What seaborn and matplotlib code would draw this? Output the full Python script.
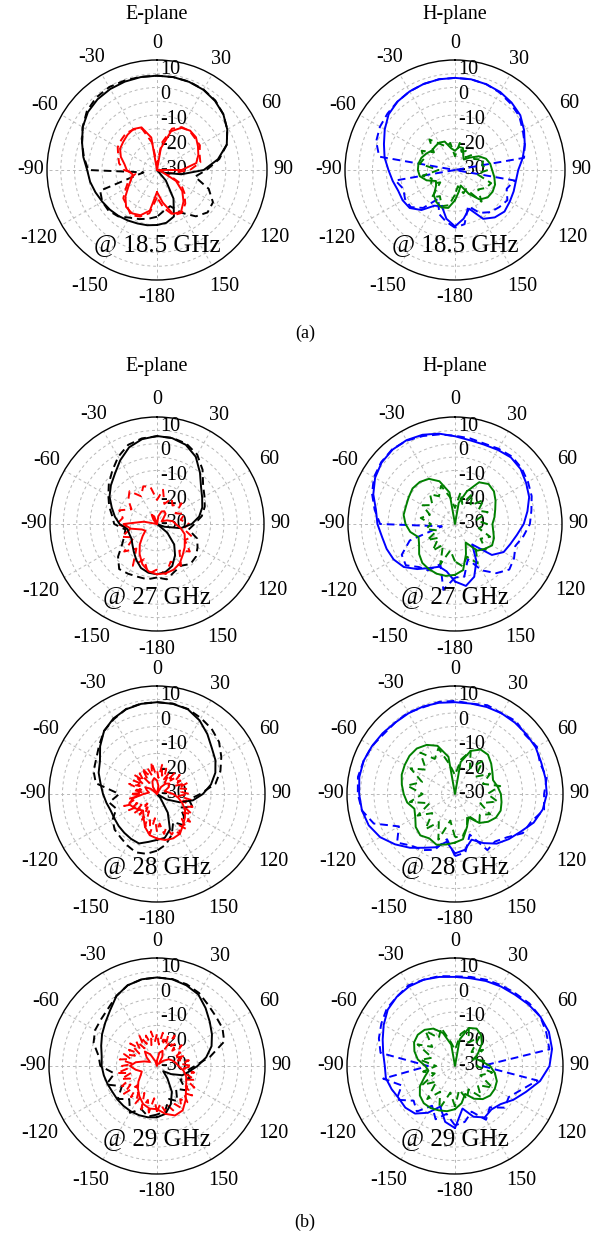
import numpy as np
import pandas as pd
import matplotlib
matplotlib.use("Agg")
import matplotlib.pyplot as plt
import seaborn as sns
from matplotlib.transforms import offset_copy

sns.set_theme(style="white")
plt.rcParams["font.family"] = ["Liberation Serif", "DejaVu Serif"]
plt.rcParams["text.color"] = "black"
plt.rcParams["xtick.color"] = "black"

# ---------------- data (dB vs angle, deg) ----------------
ANG10 = list(range(-180, 181, 10))
ANG5 = list(range(-180, 181, 5))
THETA_TICKS = [0, 30, 60, 90, 120, 150, 180, 210, 240, 270, 300, 330]
THETA_LABELS = ["0", "30", "60", "90", "120", "150", "-180", "-150", "-120", "-90", "-60", "-30"]
R_LABELS = [10, 0, -10, -20, -30]
FREQ_LABELS = ["@ 18.5 GHz", "@ 27 GHz", "@ 28 GHz", "@ 29 GHz"]

# 18.5 GHz E-plane
e185_co_sim = [-10, -9.6, -9.3, -8.8, -8.2, -7.6, -7, -6.2, -5.3, -4.6, -2.8, -1, 1.2, 2.8, 3.6, 4, 4.2, 4.3, 4.3,
               4.3, 4.1, 3.7, 2.8, 1.5, -0.5, -3, -7.5, -13, -21, -27, -30, -30, -25, -18, -12, -10.5, -10]
e185_co_mea = [-13, -12, -11, -10, -8, -7, -7, -8, -25, -5, -3, -1, 1.2, 3.3, 4.4, 4.8, 4.6, 4.4, 4.3,
               4.3, 4.2, 3.8, 3, 1.5, -0.5, -3, -7, -12, -16, -10, -6.5, -6, -8, -12, -16, -15, -13]
e185_x_sim = [-22, -15, -12.5, -11.8, -12.5, -15, -18, -20, -21, -19, -18, -16, -14.5, -14, -13.3, -12.8, -13.5, -18, -30,
              -22, -15, -12.3, -11.3, -11.5, -12.8, -14, -15.5, -21, -30, -28, -22, -18, -15, -12.5, -13, -18, -22]
e185_x_mea = [-20, -14, -12, -11, -13, -14, -17, -19, -22, -18, -16, -15, -13.5, -13, -12.5, -13, -14, -20, -28,
              -20, -14, -12, -11.5, -12, -12, -13.5, -14, -18, -24, -26, -20, -17, -14, -12, -12.5, -16, -20]
# 18.5 GHz H-plane
h185_co_sim = [-9.5, -12, -16, -15, -11, -8.5, -8, -8, -7, -5.8, -4, -2.5, -0.5, 1.5, 2.5, 3, 3.3, 3.5, 3.5,
               3.5, 3.2, 2.8, 2, 1, -1, -3, -5, -7, -7.5, -7.3, -7, -6.5, -7.5, -9.5, -15, -12, -9.5]
h185_co_mea = [-9, -11, -13, -18, -12, -9, -9, -10, -8, -30, -2, 0.5, 1.5, 2, 2.5, 3, 3.3, 3.5, 3.5,
               3.5, 3.2, 2.5, 1.5, 0.5, -1.5, -3, -4.5, -30, -8, -10, -8, -9, -10, -12, -16, -10, -9]
h185_x_sim = [-19, -16, -15.5, -16.5, -18, -21, -22, -19, -17, -16.5, -16.5, -17, -18, -19, -18.8, -18.5, -19, -22, -23,
              -21.5, -21.5, -24, -25, -23, -20, -18, -17, -16.5, -15.5, -14.5, -14.2, -14.5, -16, -20, -24, -22, -19]
h185_x_mea = [-21, -17, -16, -19, -17, -23, -20, -21, -18, -24, -17, -18, -16, -20, -15.5, -19, -21, -20, -25,
              -20, -23, -22, -24, -21, -22, -19, -20, -18, -22, -16, -17, -19, -15, -22, -21, -24, -21]

# 27 GHz E-plane
e27_co_sim = [-11.2, -11.5, -12.5, -14.5, -16.5, -18, -19, -19, -18.8, -16, -14, -12, -9.5, -7.5, -5.5, -2.5, 0.5, 2.2, 2.9,
              2.6, 1.5, -1, -5, -8.5, -10.5, -12, -14, -17, -21, -27, -30, -25, -20, -16.5, -13.3, -11.8, -11.2]
e27_co_mea = [-10, -9, -9, -8.5, -8, -11, -15, -17, -18, -14, -13, -11, -9, -6.5, -4, -1, 1.5, 2.5, 2.8,
              2.7, 2, 0, -3.5, -7.5, -9.5, -11, -13, -16, -18, -14, -12.5, -11, -10.5, -12, -11, -9, -10]
e27_x_sim = [-11.2, -12, -14, -17, -20, -23, -25, -24, -20, -17.5, -25, -30, -30, -30, -28, -26, -27, -30, -30,
             -27, -25, -24.5, -25, -27, -28, -26, -24, -23, -21, -19, -18, -16.5, -15, -13, -11.8, -11.3, -11.2]
e27_x_mea = [-13, -11, -16, -12, -18, -14, -20, -16, -20, -15, -17, -15, -19, -16, -14, -18, -15, -16, -21,
             -17, -22, -19, -21, -18, -22, -19, -21, -18, -20, -16, -18, -14, -17, -12, -15, -11, -13]
# 27 GHz H-plane
h27_co_sim = [-8.5, -12, -13, -11, -8, -5, -3.5, -2.8, -2.3, -1, 0, 2.5, 4.5, 5.8, 6.3, 6.2, 5.5, 4.3, 2.8,
              1.8, 1.6, 2, 2.5, 2, 0.7, -0.5, -2.5, -4.3, -6.5, -8, -9, -12, -20, -14, -9, -6.5, -8.5]
h27_co_mea = [-10, -5, -14, -10, -9, -6, -7, -12, -25, -2, 0.5, 3, 5, 6, 6.5, 6, 5, 4, 3,
              2.5, 2, 2.5, 3, 2.5, 1.5, 0.5, -1, -2, -4, -6, -4.5, -3.5, -6, -10, -16, -10, -10]
h27_x_sim = [-11, -10.3, -10.2, -10.5, -11, -12.5, -14.5, -15.5, -13, -11.5, -10.5, -10.5, -10, -9.3, -9.5, -10.5, -13, -18, -30,
             -22, -17, -12, -10.5, -11, -12.5, -14, -15, -16, -15.5, -14.5, -14, -15.5, -17, -22, -18, -12.5, -11]
h27_x_mea = [-16, -20, -14, -21, -17, -22, -18, -23, -19, -21, -17, -20, -16, -19, -15.5, -18, -14.8, -20, -24,
             -18, -22, -17, -21, -16, -20, -17, -22, -18, -21, -16, -19, -15, -18, -13, -17, -14, -16]

# 28 GHz E-plane
e28_co_sim = [-13, -12, -10.5, -10.8, -11.2, -11.5, -11.8, -11.8, -11, -10, -8.8, -7, -5.6, -2.5, 0.5, 2.3, 3.4, 3.9, 4,
              3.9, 3.4, 1.5, -1, -3.5, -5, -7, -9.7, -13, -16.5, -21, -26, -30, -28, -22, -16, -13.5, -13]
e28_co_mea = [-9, -7.5, -7, -8, -9, -9.5, -11, -14, -12, -16, -7, -5, -4, -2, 0.5, 2, 3.5, 4, 4,
              4, 3.5, 2.5, 1.5, 0, -2.5, -5, -8, -14, -18, -16, -20, -17, -15, -18, -14, -11, -9]
e28_x_sim = [-13.5, -14.5, -17, -20, -22, -21, -20, -19, -21, -25, -27, -26, -25, -27, -30, -27, -25, -24, -25,
             -27, -30, -27, -25, -24, -25, -27, -26, -24, -22, -20, -18, -16.5, -15, -13, -12.5, -12.7, -13.5]
e28_x_mea = [-16, -21, -15, -20, -17, -23, -19, -24, -20, -25, -19, -23, -18, -22, -17, -21, -19, -24, -20,
             -25, -21, -24, -19, -23, -20, -24, -19, -23, -20, -25, -19, -22, -20, -23, -18, -22, -21,
             -24, -19, -23, -20, -24, -21, -25, -20, -23, -19, -22, -20, -23, -18, -22, -19, -21, -18,
             -22, -17, -20, -16, -19, -15, -18, -14, -17, -13, -16, -13, -15, -14, -17, -15, -19, -16]
# 28 GHz H-plane
h28_co_sim = [-8, -12, -9, -7, -4, -1, 2, 4, 5, 5.5, 6, 6, 5.5, 5, 4.5, 4.5, 4.5, 4.3, 4,
              4, 4.3, 4.5, 4.5, 4.5, 4.5, 4, 4, 4, 3, 1, -2, -4, -6, -9, -12, -9, -8]
h28_co_mea = [-7, -13, -8, -6, -5, -2, -6, 2, 5, 6, 6.5, 6, 5.5, 4.5, 4.5, 4.8, 4.2, 4.6, 4.5,
              4, 5, 4.5, 5.2, 4, 5, 3.5, 4.5, 3, 3.5, 0, -1, -5, -7, -6, -14, -8, -7]
h28_x_sim = [-12, -11, -10, -11, -10, -11, -13, -14, -12, -11, -10, -9, -8.5, -8, -8, -9, -11, -16, -30,
             -18, -13, -11, -11, -12.5, -14, -15, -14, -13, -12.5, -12, -12.5, -14, -16, -20, -17, -13, -12]
h28_x_mea = [-14, -20, -12, -18, -13, -19, -14, -20, -13, -18, -12, -17, -11, -16, -10, -15, -12, -19, -23,
             -17, -13, -19, -14, -20, -15, -19, -13, -18, -14, -20, -15, -18, -16, -21, -17, -14, -14]

# 29 GHz E-plane
e29_co_sim = [-11, -10.7, -10.6, -10.6, -10.7, -10.8, -10.9, -10.5, -10, -9.5, -9.2, -8, -6.5, -5, -3, 0, 1.8, 2.6, 2.8,
              2.6, 1.8, 0.6, -2, -4.5, -6.5, -8.5, -11.5, -15, -18, -20, -24, -27, -24, -19, -15, -12, -11]
e29_co_mea = [-12, -11, -13, -10, -14, -11, -15, -10, -14, -9, -8, -5, -3.5, -3, -2, 0, 1.8, 2.6, 2.8,
              2.7, 2.2, 1.2, -0.5, -1.5, -2, -3.5, -10, -16, -19, -17, -20, -16, -19, -15, -17, -13, -12]
e29_x_sim = [-14, -14, -15, -17, -19, -21, -23, -24, -22, -20, -22, -25, -27, -25, -23, -25, -28, -30, -28,
             -25, -24, -26, -29, -27, -25, -24, -23, -22, -20, -18.5, -17.5, -16, -13.5, -11, -10.5, -12, -14]
e29_x_mea = [-13, -18, -12.5, -17, -13, -19, -14, -18, -15, -20, -14, -18, -15, -19, -16, -20, -15, -19, -17,
             -21, -16, -20, -17, -21, -18, -22, -17, -21, -18, -22, -17, -21, -18, -22, -17, -21, -18,
             -22, -17.5, -21, -18, -23, -17, -21, -19, -22, -18, -21, -20, -23, -19, -22, -18, -21, -17,
             -20, -16, -19, -15, -18, -14, -17, -13, -16, -12.5, -15, -12, -14.5, -12.5, -15, -13, -16, -13]
# 29 GHz H-plane
h29_co_sim = [-7, -9, -14, -10, -7, -6, -6, -5, -4, -4, -3, -1.5, 0.5, 2.5, 3.5, 4, 4, 3.5, 3,
              3, 3.5, 4, 4.5, 5.5, 6.5, 7, 6.5, 5, 2, -2, -5, -8, -9, -8, -10, -14, -7]
h29_co_mea = [-8, -12, -9, -13, -8, -10, -5, -9, -3, -20, -2, 0, 1.5, 3, 3.5, 4.5, 4, 3.8, 3.2,
              3.5, 4, 4.5, 5, 6, 6.5, 6, 5.5, -20, 1, -4, -7, -6, -10, -7, -12, -9, -8]
h29_x_sim = [-14, -13, -12.5, -12, -12, -13, -15, -18, -20, -19, -16, -14, -12.5, -12, -12.5, -14, -17, -22, -30,
             -20, -15, -14, -15, -17, -20, -22, -20, -17, -15, -13.5, -13, -13, -14, -16, -19, -16, -14]
h29_x_mea = [-15, -20, -13, -19, -14, -21, -16, -22, -18, -23, -17, -21, -14, -19, -13, -18, -15, -21, -24,
             -18, -15, -20, -16, -22, -18, -23, -19, -22, -16, -20, -14, -19, -15, -20, -17, -21, -15]

# ---------------- layout (pixels) ----------------
W, H = 611, 1243
ROW_CY = [170, 524, 794, 1066]
ROW_R = [110, 107, 108, 108]
COL_CX = [157, 455]
# distance (px) from circle edge to the centre of each angle label
THETA_LABEL_GAP = [17, 18, 22, 16, 26, 24, 18, 24, 27, 16, 20, 20]

E_COLORS = ("black", "red")
H_COLORS = ("#0000ff", "#008000")

panels = [
    (0, 0, E_COLORS, [(ANG10, e185_co_sim), (ANG10, e185_co_mea), (ANG10, e185_x_sim), (ANG10, e185_x_mea)]),
    (0, 1, H_COLORS, [(ANG10, h185_co_sim), (ANG10, h185_co_mea), (ANG10, h185_x_sim), (ANG10, h185_x_mea)]),
    (1, 0, E_COLORS, [(ANG10, e27_co_sim), (ANG10, e27_co_mea), (ANG10, e27_x_sim), (ANG10, e27_x_mea)]),
    (1, 1, H_COLORS, [(ANG10, h27_co_sim), (ANG10, h27_co_mea), (ANG10, h27_x_sim), (ANG10, h27_x_mea)]),
    (2, 0, E_COLORS, [(ANG10, e28_co_sim), (ANG10, e28_co_mea), (ANG10, e28_x_sim), (ANG5, e28_x_mea)]),
    (2, 1, H_COLORS, [(ANG10, h28_co_sim), (ANG10, h28_co_mea), (ANG10, h28_x_sim), (ANG10, h28_x_mea)]),
    (3, 0, E_COLORS, [(ANG10, e29_co_sim), (ANG10, e29_co_mea), (ANG10, e29_x_sim), (ANG5, e29_x_mea)]),
    (3, 1, H_COLORS, [(ANG10, h29_co_sim), (ANG10, h29_co_mea), (ANG10, h29_x_sim), (ANG10, h29_x_mea)]),
]

fig = plt.figure(figsize=(W / 100, H / 100), dpi=100)
fig.patch.set_facecolor("white")

for row, col, colors, curves in panels:
    cx, cy, R = COL_CX[col], ROW_CY[row], ROW_R[row]
    ax = fig.add_axes([(cx - R) / W, 1 - (cy + R) / H, 2 * R / W, 2 * R / H], projection="polar")
    ax.set_facecolor("white")
    ax.set_theta_zero_location("N")
    ax.set_theta_direction(-1)
    styles = [(colors[0], "-"), (colors[0], (0, (4, 2.5))), (colors[1], "-"), (colors[1], (0, (4, 2.5)))]
    order = [1, 3, 0, 2]
    for k in order:
        ang, vals = curves[k]
        df = pd.DataFrame({"theta": np.deg2rad(ang), "dB": np.clip(vals, -30, 10)})
        c, ls = styles[k]
        sns.lineplot(data=df, x="theta", y="dB", ax=ax, sort=False, estimator=None,
                     color=c, linestyle=ls, linewidth=1.4, zorder=3)
    ax.set_ylim(-30, 10)
    ax.set_yticks([-25, -20, -15, -10, -5, 0, 5])
    ax.set_yticklabels([])
    ax.set_xticks(np.deg2rad(THETA_TICKS))
    ax.set_xticklabels([])
    ax.set_xlabel("")
    ax.set_ylabel("")
    ax.tick_params(axis="x", direction="in", length=4, width=0.8, colors="black")
    ax.tick_params(axis="y", length=0)
    ax.grid(True, color="#b8b8b8", linestyle=(0, (3, 3)), linewidth=0.7)
    ax.spines["polar"].set_color("black")
    ax.spines["polar"].set_linewidth(1.0)
    # angle labels outside the circle
    for deg, lab, gap in zip(THETA_TICKS, THETA_LABELS, THETA_LABEL_GAP):
        t = np.deg2rad(deg)
        trl = offset_copy(ax.transData, fig=fig, x=gap * np.sin(t), y=gap * np.cos(t), units="dots")
        ax.text(t, 10, lab, transform=trl, ha="center", va="center", fontsize=14.5, color="black")
    # radial labels
    tr = offset_copy(ax.transData, fig=fig, x=3, y=0, units="dots")
    for v in R_LABELS:
        ax.text(0, -30 + 0.91 * (v + 30), str(v), transform=tr, ha="left", va="center",
                fontsize=14.5, zorder=1, color="black")
    fig.text(cx / W, 1 - (cy + 0.68 * R) / H, FREQ_LABELS[row], ha="center", va="center", fontsize=18)

# titles and sub-captions
for col, name in enumerate(["E-plane", "H-plane"]):
    fig.text(COL_CX[col] / W, 1 - 14 / H, name, ha="center", va="center", fontsize=14.5)
    fig.text(COL_CX[col] / W, 1 - 367 / H, name, ha="center", va="center", fontsize=14.5)
fig.text(305 / W, 1 - 333 / H, "(a)", ha="center", va="center", fontsize=13)
fig.text(305 / W, 1 - 1222 / H, "(b)", ha="center", va="center", fontsize=13)

fig.savefig("out.png", dpi=100, facecolor="white")
